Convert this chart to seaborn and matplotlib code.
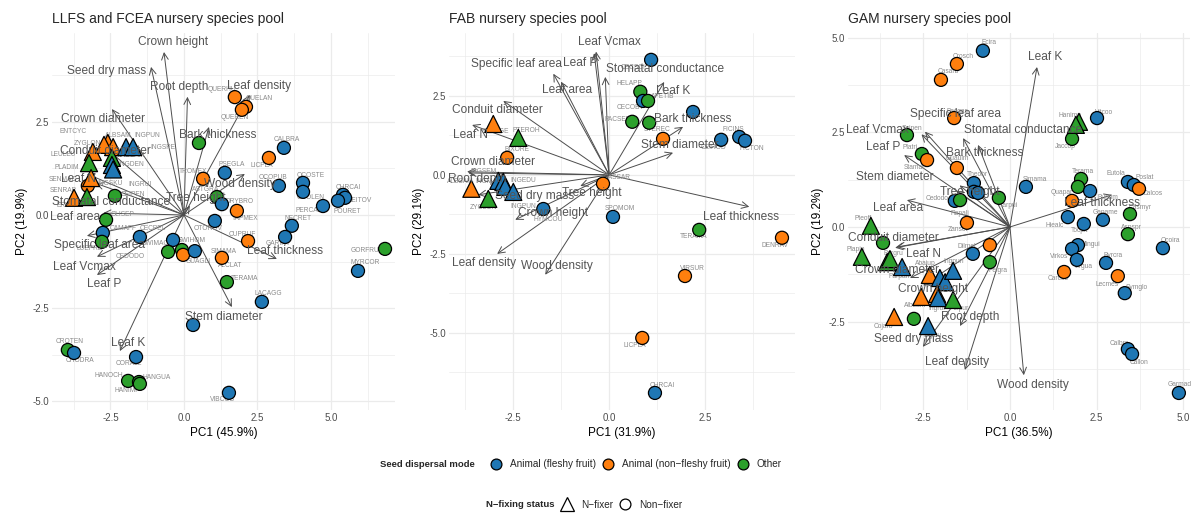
import numpy as np
import pandas as pd
import matplotlib
matplotlib.use("Agg")
import matplotlib.pyplot as plt
from matplotlib.lines import Line2D
from matplotlib.ticker import MultipleLocator, FormatStrFormatter
import seaborn as sns

sns.set_theme(style="white")
plt.rcParams["font.family"] = ["Liberation Sans", "DejaVu Sans"]

# ---------------------------------------------------------------- data
DISP = {"F": "Animal (fleshy fruit)", "N": "Animal (non-fleshy fruit)", "O": "Other"}
NFIX = {1: "N-fixer", 0: "Non-fixer"}

# LLFS and FCEA pool: species scores
llfs_species = ["QUERHU", "QUELAN", "QUEREN", "SAPSAP", "CALBRA", "LICPLA", "PSEGLA", "TROMEX",
                "OCOPUB", "OCOSTE", "OCOLEN", "PERCAL", "CHRCAI", "BEITOV", "POURET", "ASTGRA",
                "DRYBRO", "TAPMEX", "OTOROV", "CUPRUF", "NECRET", "GARINT", "GORFRU", "MYRCOR",
                "ALCLAT", "TERAMA", "LACAGG", "POUTOR", "CROTEN", "CHODRA", "CORALL", "HANOCH",
                "HANGUA", "HANIMP", "VIBCOS", "GLISEP", "CAMAFF", "LUEPRE", "CECPEL", "SWIMAC",
                "SWIHOM", "CEDODO", "GUAGLI", "SIMAMA", "LEULEU", "PLADIM", "SENMAC", "INGSKU",
                "SENRAP", "ERYPOE", "CEIPEN", "ZYGLON", "ALBSAM", "ENTCYC", "MACCAM", "INGPUN",
                "INGSPE", "INGDEN", "INGRUI"]
llfs_pc1 = [1.73, 2.11, 1.97, 0.51, 3.40, 2.89, 1.39, 0.65,
            3.23, 4.05, 4.05, 4.73, 5.41, 5.48, 5.24, 1.12,
            1.29, 1.80, 1.05, 2.18, 3.67, 3.44, 6.84, 5.92,
            1.29, 1.46, 2.65, 0.31, -3.95, -3.74, -1.63, -1.90,
            -1.53, -1.50, 1.53, -2.65, -2.76, -2.79, -1.50, -0.37,
            -0.07, -0.54, -0.03, 0.37, -3.10, -3.23, -3.16, -3.27,
            -3.74, -3.30, -2.35, -2.59, -2.41, -2.72, -2.45, -1.97,
            -1.73, -2.45, -2.41]
llfs_pc2 = [3.16, 2.90, 2.82, 1.93, 1.80, 1.53, 1.13, 0.97,
            0.78, 0.86, 0.62, 0.24, 0.54, 0.46, 0.38, 0.48,
            0.29, 0.11, -0.16, -0.70, -0.29, -0.59, -0.91, -1.50,
            -1.15, -1.80, -2.33, -2.95, -3.62, -3.70, -3.81, -4.45,
            -4.48, -4.53, -4.77, -0.13, -0.48, -0.72, -0.59, -0.67,
            -0.94, -0.99, -1.07, -0.97, 1.69, 1.39, 0.99, 0.78,
            0.46, 0.48, 0.51, 1.93, 1.82, 1.88, 1.53, 1.82,
            1.82, 1.34, 1.22]
llfs_disp = ["N", "N", "N", "O", "F", "N", "F", "N",
             "F", "F", "F", "F", "F", "F", "F", "O",
             "F", "N", "F", "N", "F", "F", "O", "F",
             "N", "O", "F", "F", "O", "F", "F", "O",
             "O", "O", "F", "O", "F", "O", "F", "F",
             "O", "O", "N", "F", "N", "O", "N", "N",
             "N", "O", "O", "N", "N", "N", "O", "F",
             "F", "F", "F"]
llfs_nfix = [0, 0, 0, 0, 0, 0, 0, 0,
             0, 0, 0, 0, 0, 0, 0, 0,
             0, 0, 0, 0, 0, 0, 0, 0,
             0, 0, 0, 0, 0, 0, 0, 0,
             0, 0, 0, 0, 0, 0, 0, 0,
             0, 0, 0, 0, 1, 1, 1, 0,
             1, 1, 0, 1, 1, 1, 1, 1,
             1, 1, 1]

# LLFS and FCEA pool: trait loadings (arrow tips) and label anchors
llfs_traits = ["Crown height", "Seed dry mass", "Root depth", "Leaf density", "Bark thickness",
               "Crown diameter", "Conduit diameter", "Leaf N", "Stomatal conductance", "Leaf area",
               "Specific leaf area", "Leaf Vcmax", "Leaf P", "Leaf K", "Stem diameter",
               "Leaf thickness", "Wood density", "Tree height"]
llfs_load1 = [-0.68, -1.12, 0.12, 2.24, 0.85, -2.45, -2.86, -3.30, -3.00, -2.75,
              -3.30, -2.96, -2.96, -2.18, 1.63, 3.16, 2.07, 0.20]
llfs_load2 = [4.37, 3.97, 3.17, 3.22, 2.36, 2.84, 1.93, 1.10, 0.85, 0.05,
              -0.56, -1.12, -1.61, -3.65, -2.47, -1.18, 1.10, 0.25]
llfs_lab1 = [-0.37, -2.62, -0.17, 2.55, 1.15, -2.76, -2.69, -3.58, -2.48, -3.70,
             -2.86, -3.37, -2.72, -1.90, 1.36, 3.44, 1.90, 0.41]
llfs_lab2 = [4.64, 3.86, 3.43, 3.46, 2.14, 2.57, 1.72, 0.96, 0.35, -0.05,
             -0.80, -1.39, -1.85, -3.43, -2.73, -0.97, 0.83, 0.45]

# FAB pool: species scores
fab_species = ["CECSCI", "HELAPP", "CECOBT", "APETIB", "PACSER", "STEREC", "PSEGLA", "CEIROD",
               "FICINS", "FICTON", "SPOMLO", "SENAGE", "PTEROH", "BIXORE", "CASSAR", "INGSEM",
               "INGMAR", "INGEDU", "INGPUN", "ALBSAM", "ZYGLON", "HYMCOU", "SPOMOM", "TERAMA",
               "DENRAV", "VIRSUR", "LICPLA", "CHRCAI"]
fab_pc1 = [1.09, 0.81, 0.88, 1.01, 0.60, 1.04, 2.18, 2.91,
           3.38, 3.53, 1.40, -3.01, -2.36, -2.65, -0.16, -2.88,
           -2.75, -2.70, -2.49, -3.58, -3.14, -1.71, 0.10, 2.34,
           4.49, 1.97, 0.86, 1.19]
fab_pc2 = [3.64, 2.63, 2.34, 2.34, 1.68, 1.65, 1.99, 1.11,
           1.20, 1.08, 1.14, 1.61, 1.17, 0.54, -0.28, -0.19,
           -0.22, -0.38, -0.54, -0.44, -0.76, -1.08, -1.33, -1.74,
           -1.99, -3.20, -5.16, -6.90]
fab_disp = ["F", "O", "F", "O", "O", "O", "F", "F",
            "F", "F", "N", "N", "O", "N", "N", "F",
            "F", "F", "F", "N", "O", "F", "F", "O",
            "N", "N", "N", "F"]
fab_nfix = [0, 0, 0, 0, 0, 0, 0, 0,
            0, 0, 0, 1, 1, 0, 0, 1,
            1, 1, 1, 1, 1, 0, 0, 0,
            0, 0, 0, 0]

fab_traits = ["Leaf Vcmax", "Leaf P", "Specific leaf area", "Stomatal conductance", "Leaf area",
              "Leaf K", "Conduit diameter", "Bark thickness", "Leaf N", "Stem diameter",
              "Crown diameter", "Root depth", "Seed dry mass", "Tree height", "Crown height",
              "Leaf thickness", "Leaf density", "Wood density"]
fab_load1 = [-0.34, -0.39, -1.45, -0.10, -1.25, 1.43, -2.75, 1.92, -3.56, 1.66,
             -3.69, -3.66, -3.40, -0.75, -2.44, 3.64, -2.91, -1.66]
fab_load2 = [3.90, 3.85, 3.20, 3.10, 2.95, 2.94, 2.34, 1.52, 1.58, 0.70,
             0.10, 0.06, -0.63, -0.35, -1.42, -1.01, -2.50, -3.16]
fab_lab1 = [0.00, -0.75, -2.42, 1.45, -1.09, 1.66, -2.91, 2.16, -3.61, 1.84,
            -3.01, -3.43, -1.95, -0.44, -1.45, 3.43, -3.25, -1.35]
fab_lab2 = [4.20, 3.54, 3.51, 3.35, 2.69, 2.66, 2.06, 1.77, 1.27, 0.95,
            0.41, -0.13, -0.66, -0.57, -1.20, -1.33, -2.79, -2.88]

# GAM pool: species scores
gam_species = ["Ecira", "Crosch", "Casarb", "Bacgas", "Saipen", "Platri", "Stamac", "Guaulm",
               "Theobr", "Tricat", "Cecpel", "Karpui", "Simama", "Cedodo", "Rapali", "Hanimp",
               "Hangua", "Vitcoo", "Jaccop", "Quapar", "Terama", "Corall", "Bursim", "Eutola",
               "Poslat", "Calcos", "Hiealc", "Tocpit", "Ganame", "Casmyr", "Aspspr", "Ocoira",
               "Mingui", "Virkos", "Virgua", "Carcos", "Byrcra", "Lecmes", "Symglo", "Calbra",
               "Callon", "Garmad", "Zanset", "Brosim", "Dilmel", "Pelgra", "Pteoff", "Cedfis",
               "Plapin", "Bergru", "Glisep", "Parpan", "Abajup", "Ingmar", "Ingsap", "Ingpun",
               "Albsam", "Entcyc", "Ingrui", "Pelpur", "Cojarb", "Tabros", "Inglau"]
gam_pc1 = [-0.78, -1.53, -1.99, -1.61, -2.97, -2.54, -2.39, -1.53,
           -1.04, -1.04, -0.92, -0.32, 0.46, -1.59, -1.44, 1.99,
           1.90, 2.51, 1.79, 1.79, 2.05, 1.96, 2.31, 3.40,
           3.57, 3.72, 1.67, 2.13, 2.68, 3.46, 3.40, 4.41,
           1.96, 1.79, 1.93, 1.56, 2.77, 3.11, 3.31, 3.40,
           3.52, 4.87, -1.24, -0.58, -1.07, -0.58, -4.01, -3.66,
           -4.27, -3.54, -3.46, -3.11, -2.31, -2.02, -1.87, -1.64,
           -2.56, -2.10, -2.07, -1.64, -3.34, -2.77, -2.36]
gam_pc2 = [4.66, 4.31, 3.89, 2.88, 2.43, 1.93, 1.77, 1.56,
           1.16, 0.93, 0.90, 0.77, 1.06, 0.69, 0.71, 2.78,
           2.70, 2.88, 2.33, 0.69, 1.27, 1.06, 0.95, 1.19,
           1.11, 1.01, 0.26, 0.08, 0.19, 0.34, -0.19, -0.56,
           -0.48, -0.58, -0.87, -1.19, -0.95, -1.30, -1.75, -3.23,
           -3.36, -4.39, 0.11, -0.48, -0.71, -0.93, 0.03, -0.42,
           -0.79, -0.93, -0.85, -1.06, -1.27, -1.35, -1.46, -1.16,
           -1.85, -1.77, -1.88, -1.93, -2.38, -2.43, -2.62]
gam_disp = ["F", "N", "N", "N", "O", "O", "N", "N",
            "F", "F", "F", "O", "F", "F", "O", "O",
            "O", "F", "O", "N", "O", "O", "F", "F",
            "F", "N", "F", "F", "F", "O", "O", "F",
            "F", "F", "F", "N", "F", "N", "F", "F",
            "F", "F", "N", "N", "F", "O", "O", "O",
            "O", "O", "O", "F", "N", "F", "F", "F",
            "N", "N", "F", "O", "N", "O", "F"]
gam_nfix = [0, 0, 0, 0, 0, 0, 0, 0,
            0, 0, 0, 0, 0, 0, 0, 1,
            1, 0, 0, 0, 0, 0, 0, 0,
            0, 0, 0, 0, 0, 0, 0, 0,
            0, 0, 0, 0, 0, 0, 0, 0,
            0, 0, 0, 0, 0, 0, 1, 0,
            1, 1, 1, 1, 1, 1, 1, 1,
            1, 1, 1, 1, 1, 0, 1]

gam_traits = ["Leaf K", "Specific leaf area", "Leaf Vcmax", "Stomatal conductance", "Bark thickness",
              "Leaf P", "Stem diameter", "Tree height", "Leaf area", "Conduit diameter",
              "Leaf N", "Crown diameter", "Crown height", "Root depth", "Seed dry mass",
              "Leaf density", "Wood density", "Leaf thickness"]
gam_load1 = [0.78, -2.45, -2.55, -1.35, -0.92, -3.05, -1.45, -1.55, -2.97, -3.26,
             -3.31, -2.88, -2.50, -1.44, -2.51, -1.30, 0.40, 2.94]
gam_load2 = [4.23, 2.52, 2.45, 2.35, 2.17, 1.90, 1.10, 0.95, 0.71, -0.53,
             -0.55, -1.35, -1.55, -2.62, -3.17, -3.78, -3.92, 0.85]
gam_lab1 = [1.00, -1.58, -3.83, 0.37, -0.72, -3.66, -3.31, -1.15, -3.23, -3.37,
            -2.50, -3.26, -2.22, -1.15, -2.77, -1.53, 0.66, 2.65]
gam_lab2 = [4.50, 2.99, 2.57, 2.57, 1.96, 2.12, 1.32, 0.93, 0.50, -0.29,
            -0.71, -1.14, -1.64, -2.38, -2.96, -3.57, -4.18, 0.63]

# ---------------------------------------------------------------- layout
# species label offsets in pixels (dx, dy); species without an entry stay unlabelled
llfs_label_off = {
    "QUERHU": (-13, 8), "QUELAN": (13, 8), "QUEREN": (-7, -8), "CALBRA": (3, 8), "LICPLA": (-7, -8),
    "PSEGLA": (7, 8), "TROMEX": (-10, 7), "OCOPUB": (-6, 8), "OCOSTE": (8, 7), "OCOLEN": (8, -6),
    "PERCAL": (-14, -4), "CHRCAI": (5, 7), "BEITOV": (15, -3), "POURET": (9, -11), "ASTGRA": (-11, 8),
    "DRYBRO": (18, 3), "TAPMEX": (8, -8), "OTOROV": (-7, -8), "CUPRUF": (-6, 7), "NECRET": (6, 7),
    "GARINT": (-7, -7), "GORFRU": (-20, -2), "MYRCOR": (7, 8), "ALCLAT": (8, -8), "TERAMA": (18, 4),
    "LACAGG": (6, 8), "CROTEN": (2, 8), "CHODRA": (6, -8), "CORALL": (-7, -6), "HANOCH": (-19, 5),
    "HANGUA": (18, 5), "HANIMP": (-13, -7), "VIBCOS": (-6, -7), "GLISEP": (17, 5), "CAMAFF": (20, 4),
    "LUEPRE": (-12, -7), "CECPEL": (13, 8), "SWIMAC": (-18, -4), "SWIHOM": (10, 10),
    "CEDODO": (-38, -5), "GUAGLI": (15, -7), "SIMAMA": (29, 0), "LEULEU": (-30, -3),
    "PLADIM": (-22, -4), "SENMAC": (-28, -1), "INGSKU": (22, 2), "SENRAP": (-11, 7),
    "ERYPOE": (-17, -8), "CEIPEN": (18, 1), "ZYGLON": (-20, -1), "ALBSAM": (5, 12),
    "ENTCYC": (-31, 13), "MACCAM": (18, 2), "INGPUN": (21, 12), "INGSPE": (30, 0),
    "INGDEN": (19, 0), "INGRUI": (27, -15),
}
fab_label_off = {
    "CECSCI": (-18, -8), "HELAPP": (-11, 8), "CECOBT": (-13, -7), "APETIB": (15, 4), "PACSER": (-14, 2),
    "STEREC": (8, -7), "CEIROD": (-8, -8), "FICINS": (-6, 7), "FICTON": (7, -8), "SENAGE": (2, -8),
    "PTEROH": (8, 7), "BIXORE": (10, 8), "CASSAR": (14, 6), "INGSEM": (-15, 9), "INGMAR": (-15, 0),
    "INGEDU": (18, 6), "INGPUN": (10, -15), "ALBSAM": (-11, 7), "ZYGLON": (-5, -9), "HYMCOU": (5, -10),
    "SPOMOM": (7, 8), "TERAMA": (-6, -7), "DENRAV": (-7, -8), "VIRSUR": (7, 8), "LICPLA": (-7, -8),
    "CHRCAI": (7, 7),
}
gam_label_off = {
    "Ecira": (6, 8), "Crosch": (6, 7), "Casarb": (7, 8), "Bacgas": (3, 7), "Saipen": (5, 7),
    "Platri": (-12, 6), "Stamac": (-12, -7), "Guaulm": (0, 9), "Theobr": (3, 9), "Karpui": (9, -8),
    "Simama": (9, 7), "Cedodo": (-18, 2), "Rapali": (0, -13), "Hanimp": (-9, 6), "Vitcoo": (7, 6),
    "Jaccop": (-7, -8), "Quapar": (-10, 8), "Terama": (2, 7), "Bursim": (18, -6), "Eutola": (-12, 8),
    "Poslat": (11, 7), "Calcos": (14, -5), "Hiealc": (-13, -8), "Tocpit": (-4, -7), "Ganame": (2, 7),
    "Casmyr": (10, 7), "Aspspr": (4, 7), "Ocoira": (7, 8), "Mingui": (12, 1), "Virkos": (-13, -8),
    "Virgua": (7, -7), "Carcos": (-6, -7), "Byrcra": (7, 7), "Lecmes": (-11, -8), "Symglo": (12, 6),
    "Calbra": (-9, 6), "Callon": (7, -8), "Garmad": (1, 8), "Zanset": (-9, -7), "Dilmel": (-6, 7),
    "Pelgra": (8, -8), "Pteoff": (-8, 7), "Plapin": (-6, 7), "Bergru": (6, 9), "Parpan": (-3, -9),
    "Abajup": (-4, 11), "Ingpun": (1, 9), "Albsam": (-6, -9), "Ingrui": (-1, -10), "Pelpur": (6, -9),
    "Cojarb": (-11, -10), "Inglau": (4, -9),
}

panels = [
    dict(title="LLFS and FCEA nursery species pool", xlab="PC1 (45.9%)", ylab="PC2 (19.9%)",
         sp=llfs_species, x=llfs_pc1, y=llfs_pc2, disp=llfs_disp, nfix=llfs_nfix,
         tr=llfs_traits, l1=llfs_load1, l2=llfs_load2, t1=llfs_lab1, t2=llfs_lab2,
         off=llfs_label_off, xlim=(-4.49, 7.18), ylim=(-5.23, 4.88),
         rect=(0.0436, 0.2008, 0.2878, 0.7349)),
    dict(title="FAB nursery species pool", xlab="PC1 (31.9%)", ylab="PC2 (29.1%)",
         sp=fab_species, x=fab_pc1, y=fab_pc2, disp=fab_disp, nfix=fab_nfix,
         tr=fab_traits, l1=fab_load1, l2=fab_load2, t1=fab_lab1, t2=fab_lab2,
         off=fab_label_off, xlim=(-4.16, 4.83), ylim=(-7.44, 4.49),
         rect=(0.3767, 0.2008, 0.2903, 0.7349)),
    dict(title="GAM nursery species pool", xlab="PC1 (36.5%)", ylab="PC2 (19.2%)",
         sp=gam_species, x=gam_pc1, y=gam_pc2, disp=gam_disp, nfix=gam_nfix,
         tr=gam_traits, l1=gam_load1, l2=gam_load2, t1=gam_lab1, t2=gam_lab2,
         off=gam_label_off, xlim=(-4.67, 5.19), ylim=(-4.84, 5.13),
         rect=(0.7114, 0.2008, 0.2869, 0.7349)),
]

disp_order = [DISP["F"], DISP["N"], DISP["O"]]
palette = dict(zip(disp_order, ["#1f77b4", "#ff7f0e", "#2ca02c"]))
GRID = "#EBEBEB"
ARROW = "#4D4D4D"

fig = plt.figure(figsize=(11.92, 5.13), dpi=100)

for p in panels:
    ax = fig.add_axes(p["rect"])
    df = pd.DataFrame({"species": p["sp"], "PC1": p["x"], "PC2": p["y"],
                       "disp": [DISP[d] for d in p["disp"]],
                       "nfix": [NFIX[n] for n in p["nfix"]]})

    # trait loadings as arrows from the origin
    for name, a, b in zip(p["tr"], p["l1"], p["l2"]):
        ax.annotate("", xy=(a, b), xytext=(0, 0),
                    arrowprops=dict(arrowstyle="->", color=ARROW, lw=0.7,
                                    shrinkA=0, shrinkB=0, mutation_scale=12),
                    zorder=2)

    # species scores
    for nf, mk, size in [("Non-fixer", "o", 88), ("N-fixer", "^", 150)]:
        sub = df[df["nfix"] == nf]
        sns.scatterplot(data=sub, x="PC1", y="PC2", hue="disp", hue_order=disp_order,
                        palette=palette, marker=mk, s=size, edgecolor="black",
                        linewidth=0.9, legend=False, ax=ax, zorder=3)

    # species codes
    for _, r in df.iterrows():
        if r["species"] in p["off"]:
            dx, dy = p["off"][r["species"]]
            ax.annotate(r["species"], (r["PC1"], r["PC2"]), xytext=(dx, dy),
                        textcoords="offset pixels", ha="center", va="center",
                        fontsize=4.8, color="#8a8a8a", zorder=2.5)

    # trait names
    for name, tx, ty in zip(p["tr"], p["t1"], p["t2"]):
        ax.text(tx, ty, name, ha="center", va="center", fontsize=8.6,
                color="#555555", zorder=4)

    ax.set_xlim(*p["xlim"])
    ax.set_ylim(*p["ylim"])
    ax.xaxis.set_major_locator(MultipleLocator(2.5))
    ax.yaxis.set_major_locator(MultipleLocator(2.5))
    ax.xaxis.set_minor_locator(MultipleLocator(1.25))
    ax.yaxis.set_minor_locator(MultipleLocator(1.25))
    ax.xaxis.set_major_formatter(FormatStrFormatter("%.1f"))
    ax.yaxis.set_major_formatter(FormatStrFormatter("%.1f"))
    ax.grid(which="major", color=GRID, lw=0.9)
    ax.grid(which="minor", color=GRID, lw=0.5)
    ax.set_axisbelow(True)
    for s in ax.spines.values():
        s.set_visible(False)
    ax.tick_params(which="both", length=0, labelsize=7, labelcolor="#4D4D4D", pad=2)
    ax.set_xlabel(p["xlab"], fontsize=8.5, color="black", labelpad=3)
    ax.set_ylabel(p["ylab"], fontsize=8.5, color="black", labelpad=3)
    ax.set_title(p["title"], loc="left", fontsize=10, pad=7)

# ---------------------------------------------------------------- legends
LEG_FS = 7.2
disp_handles = [Line2D([], [], marker="o", ls="", markersize=7.8, markerfacecolor=palette[d],
                       markeredgecolor="black", markeredgewidth=0.9) for d in disp_order]
leg1 = fig.legend(disp_handles, disp_order, loc="center left", bbox_to_anchor=(0.412, 0.095),
                  ncol=3, frameon=False, fontsize=LEG_FS, handletextpad=0.9, columnspacing=0.7,
                  handlelength=1.0, borderpad=0, borderaxespad=0)
fig.text(0.3985, 0.095, "Seed dispersal mode", ha="right", va="center", fontsize=6.8,
         fontweight="bold")

nfix_handles = [Line2D([], [], marker=m, ls="", markersize=ms, markerfacecolor="white",
                       markeredgecolor="black", markeredgewidth=0.9)
                for m, ms in [("^", 10), ("o", 7.8)]]
leg2 = fig.legend(nfix_handles, ["N-fixer", "Non-fixer"], loc="center left",
                  bbox_to_anchor=(0.4715, 0.016), ncol=2, frameon=False, fontsize=LEG_FS,
                  handletextpad=0.9, columnspacing=0.7, handlelength=1.0, borderpad=0,
                  borderaxespad=0)
fig.text(0.4656, 0.016, "N\u2212fixing status", ha="right", va="center", fontsize=6.8,
         fontweight="bold")
for t in leg1.get_texts() + leg2.get_texts():
    t.set_text(t.get_text().replace("-", "\u2212"))

fig.savefig("out.png", dpi=100, facecolor="white")
